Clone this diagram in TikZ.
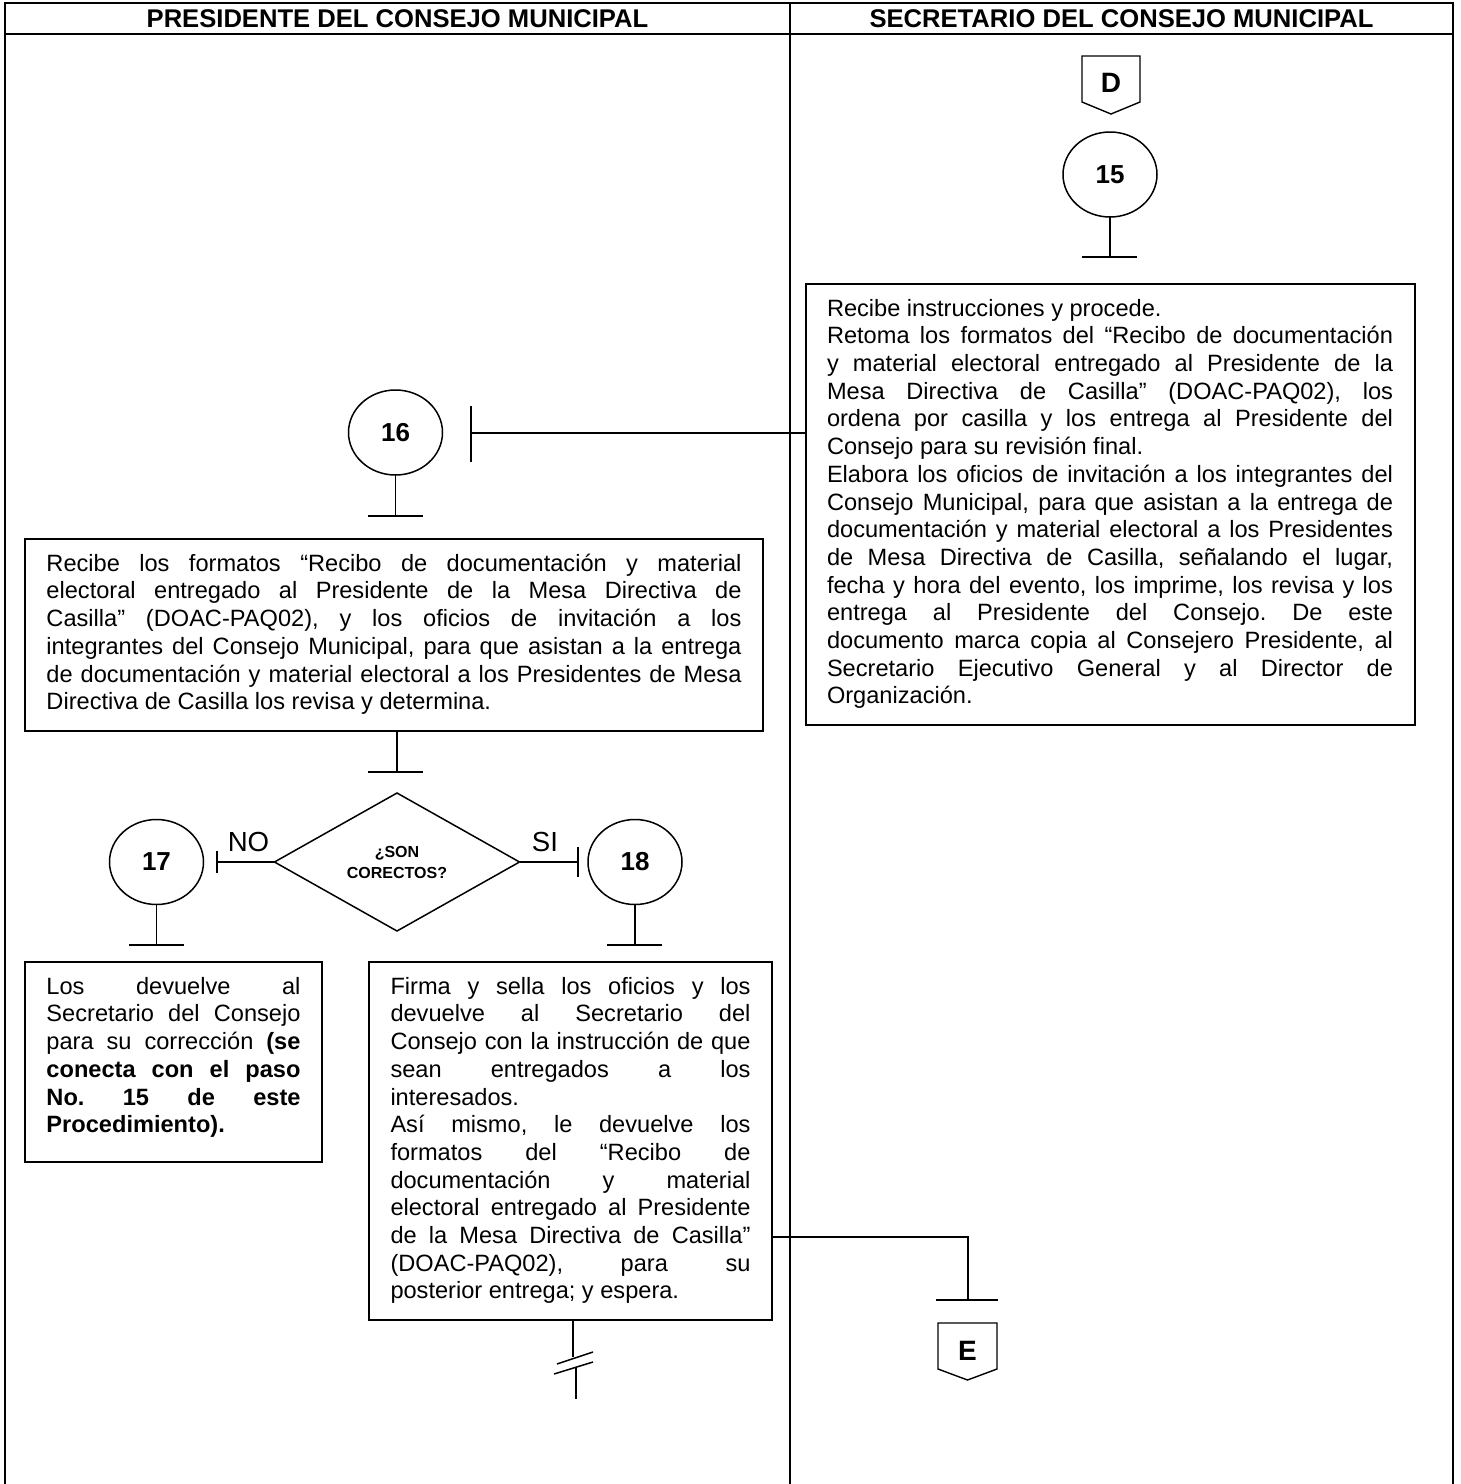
\documentclass[tikz,border=0pt]{standalone}
\usepackage{fontspec}
\setmainfont{Liberation Sans}
\usetikzlibrary{shapes.geometric,calc}
\newcommand\bodyfont{\fontsize{11.8}{13.85}\selectfont}
\newcommand\boxtext[2]{\parbox[t]{#1}{\bodyfont\tolerance=10000\hyphenpenalty=10000\exhyphenpenalty=10000\frenchspacing\strut #2\strut}}
\tikzset{
  frame/.style={line width=1pt},
  proc/.style={draw, line width=1pt, inner xsep=10.75pt, inner ysep=6.4pt, outer sep=0pt},
  conn/.style={line width=0.75pt},
  circ/.style={draw, ellipse, line width=0.75pt, minimum width=47pt, minimum height=42.5pt, inner sep=0pt, outer sep=0pt, font=\bfseries\fontsize{13}{15}\selectfont},
  decis/.style={draw, diamond, line width=0.75pt, minimum width=122.5pt, minimum height=69pt, aspect=1.775, inner sep=0pt, outer sep=0pt, align=center, font=\bfseries\fontsize{8}{10.5}\selectfont},
  hdr/.style={font=\bfseries\fontsize{12.8}{14}\selectfont, inner sep=0pt},
  yn/.style={font=\fontsize{13.8}{15}\selectfont, inner sep=0pt},
  conlbl/.style={font=\bfseries\fontsize{14}{16}\selectfont, inner sep=0pt},
  offpage/.style={line width=0.7pt}
}
\begin{document}
\begin{tikzpicture}[x=0.5pt,y=-0.5pt]
\useasboundingbox (0,0) rectangle (1461,1484);
% frame
\draw[frame] (5,1484) -- (5,3) -- (1453,3) -- (1453,1484);
\draw[frame] (5,34) -- (1453,34);
\draw[frame] (790,3) -- (790,1484);
\node[hdr] (h1) at (397.5,19) {PRESIDENTE DEL CONSEJO MUNICIPAL};
\node[hdr] (h2) at (1121.5,19) {SECRETARIO DEL CONSEJO MUNICIPAL};

% connector D
\node[conlbl] (D) at (1111,83) {D};
\draw[offpage] ($(D)+(-29,-27)$) -- ($(D)+(29,-27)$) -- ($(D)+(29,19)$) -- ($(D)+(0,31)$) -- ($(D)+(-29,19)$) -- cycle;

% 15
\node[circ] (c15) at (1110,174.5) {15};
\coordinate (t15) at (1110,257);
\draw[conn] (c15.south) -- (t15);
\draw[conn] ($(t15)+(-28,0)$) -- ($(t15)+(27,0)$);

\node[proc, anchor=north west] (s15box) at (805.5,284) {\boxtext{283pt}{Recibe instrucciones y procede.\par
Retoma los formatos del “Recibo de documentación\linebreak
y material electoral entregado al Presidente de la\linebreak
Mesa Directiva de Casilla” (DOAC-PAQ02), los\linebreak
ordena por casilla y los entrega al Presidente del\linebreak
Consejo para su revisión final.\par
Elabora los oficios de invitación a los integrantes del\linebreak
Consejo Municipal, para que asistan a la entrega de\linebreak
documentación y material electoral a los Presidentes\linebreak
de Mesa Directiva de Casilla, señalando el lugar,\linebreak
fecha y hora del evento, los imprime, los revisa y los\linebreak
entrega al Presidente del Consejo. De este\linebreak
documento marca copia al Consejero Presidente, al\linebreak
Secretario Ejecutivo General y al Director de\linebreak
Organización.}};

% 16
\node[circ] (c16) at (395.5,432.5) {16};
\coordinate (t16) at (471,433);
\draw[conn] (s15box.west |- t16) -- (t16);
\draw[conn] ($(t16)+(0,-27)$) -- ($(t16)+(0,29)$);
\coordinate (s16) at (395.5,516);
\draw[conn] (c16.south) -- (s16);
\draw[conn] ($(s16)+(-27.5,0)$) -- ($(s16)+(27.5,0)$);

\node[proc, anchor=north west] (p16box) at (25,539) {\boxtext{347.5pt}{Recibe los formatos “Recibo de documentación y material\linebreak
electoral entregado al Presidente de la Mesa Directiva de\linebreak
Casilla” (DOAC-PAQ02), y los oficios de invitación a los\linebreak
integrantes del Consejo Municipal, para que asistan a la entrega\linebreak
de documentación y material electoral a los Presidentes de Mesa\linebreak
Directiva de Casilla los revisa y determina.}};

% decision
\node[decis] (dia) at (397,862) {¿SON\\CORECTOS?};
\coordinate (tdia) at (397,772);
\draw[conn] (p16box.south -| tdia) -- (tdia);
\draw[conn] ($(tdia)+(-29,0)$) -- ($(tdia)+(26,0)$);

\coordinate (tno) at (217,862);
\draw[conn] (dia.west) -- (tno);
\draw[conn] ($(tno)+(0,-11)$) -- ($(tno)+(0,11)$);
\node[yn] (no) at (248.5,842) {NO};

\coordinate (tsi) at (578,862);
\draw[conn] (dia.east) -- (tsi);
\draw[conn] ($(tsi)+(0,-15)$) -- ($(tsi)+(0,15)$);
\node[yn] (si) at (545,842) {SI};

% 17
\node[circ] (c17) at (156.5,862) {17};
\coordinate (t17) at (156.5,945);
\draw[conn] (c17.south) -- (t17);
\draw[conn] ($(t17)+(-27.5,0)$) -- ($(t17)+(27.5,0)$);
\node[proc, anchor=north west] (p17box) at (25,962) {\parbox[t][87.2pt][t]{127pt}{\bodyfont\tolerance=10000\hyphenpenalty=10000\exhyphenpenalty=10000\frenchspacing\strut Los devuelve al\linebreak
Secretario del Consejo\linebreak
para su corrección \textbf{(se\linebreak
conecta con el paso\linebreak
No. 15 de este\linebreak
Procedimiento).}}};

% 18
\node[circ] (c18) at (635,862) {18};
\coordinate (t18) at (635,945);
\draw[conn] (c18.south) -- (t18);
\draw[conn] ($(t18)+(-28,0)$) -- ($(t18)+(27,0)$);
\node[proc, anchor=north west] (p18box) at (369,962) {\boxtext{180pt}{Firma y sella los oficios y los\linebreak
devuelve al Secretario del\linebreak
Consejo con la instrucción de que\linebreak
sean entregados a los\linebreak
interesados.\par
Así mismo, le devuelve los\linebreak
formatos del “Recibo de\linebreak
documentación y material\linebreak
electoral entregado al Presidente\linebreak
de la Mesa Directiva de Casilla”\linebreak
(DOAC-PAQ02), para su\linebreak
posterior entrega; y espera.}};

% to E
\coordinate (elbow) at (968,1237);
\coordinate (tE) at (968,1300);
\draw[conn] (p18box.east |- elbow) -- (elbow) -- (tE);
\draw[conn] ($(tE)+(-32,0)$) -- ($(tE)+(30,0)$);
\node[conlbl] (E) at (967.5,1351) {E};
\draw[offpage] ($(E)+(-29.5,-28)$) -- ($(E)+(29.5,-28)$) -- ($(E)+(29.5,18)$) -- ($(E)+(0,29)$) -- ($(E)+(-29.5,18)$) -- cycle;

% break symbol
\coordinate (brk1) at (573,1357);
\coordinate (brk2) at (576,1368);
\coordinate (brkend) at (576,1399);
\draw[conn] (p18box.south -| brk1) -- (brk1);
\draw[conn] (557,1364) -- (593,1352);
\draw[conn] (554,1374) -- (593,1362);
\draw[conn] (brk2) -- (brkend);
\end{tikzpicture}
\end{document}
